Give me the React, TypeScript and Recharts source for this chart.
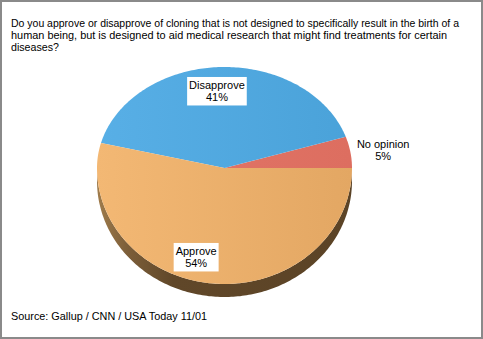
import React from 'react';
import { PieChart, Pie } from 'recharts';

// ---- data ----
const categories = ['No opinion', 'Disapprove', 'Approve'];
const values = [5, 41, 54];
const titleLines = [
  'Do you approve or disapprove of cloning that is not designed to specifically result in the birth of a',
  'human being, but is designed to aid medical research that might find treatments for certain',
  'diseases?',
];
const sourceText = 'Source: Gallup / CNN / USA Today 11/01';

// ---- styles ----
const W = 483;
const H = 339;
const FONT = '"Liberation Sans", Arial, Helvetica, sans-serif';
const CX = 224.5;
const CY = 168;
const RX = 127.5;
const RY_TOP = 101;
const RY_BOT = 116;
const DEPTH = 13;
const sliceGradients: Record<string, [string, string]> = {
  'No opinion': ['#E27668', '#DD6E60'],
  Disapprove: ['#58AFE6', '#4AA2D9'],
  Approve: ['#F3B874', '#E3A763'],
};
const labelStyle: Record<string, { f: number; dx: number; dy: number; box: boolean }> = {
  'No opinion': { f: 1.26, dx: 0, dy: 2, box: false },
  Disapprove: { f: 0.763, dx: -4.5, dy: 0, box: true },
  Approve: { f: 0.773, dx: -16, dy: 0, box: true },
};
const titleWidths = [448, 436, 48];
const sourceWidth = 196;

const data = categories.map((name, i) => ({ name, value: values[i] }));

function ePt(cx: number, cy: number, deg: number, scale = 1): [number, number] {
  const a = (deg * Math.PI) / 180;
  const s = Math.sin(a);
  const ry = s > 0 ? RY_TOP : RY_BOT;
  return [cx + RX * scale * Math.cos(a), cy - ry * scale * s];
}

function arcPts(cx: number, cy: number, a0: number, a1: number, dy = 0): [number, number][] {
  const pts: [number, number][] = [];
  const n = Math.max(2, Math.ceil(Math.abs(a1 - a0) / 1));
  for (let i = 0; i <= n; i++) {
    const a = a0 + ((a1 - a0) * i) / n;
    const [x, y] = ePt(cx, cy, a);
    pts.push([x, y + dy]);
  }
  return pts;
}

const fmt = (p: [number, number]) => `${p[0].toFixed(2)},${p[1].toFixed(2)}`;

function measure(text: string): number {
  try {
    const c = document.createElement('canvas').getContext('2d');
    if (c) {
      c.font = `11px ${FONT}`;
      return c.measureText(text).width;
    }
  } catch (e) {
    /* ignore */
  }
  return text.length * 5.6;
}

const renderSlice = (props: any) => {
  const { cx, cy, startAngle, endAngle, name, index } = props;
  const s = Math.min(startAngle, endAngle);
  const e = Math.max(startAngle, endAngle);
  const [c0, c1] = sliceGradients[name] || ['#999', '#777'];
  const gid = `slice-grad-${index}`;
  const top = arcPts(cx, cy, s, e);
  const topPath = `M${cx},${cy} L${top.map(fmt).join(' L')} Z`;
  const w0 = Math.max(s, 180);
  const w1 = Math.min(e, 360);
  let wallPath = '';
  if (w1 > w0) {
    const upper = arcPts(cx, cy, w0, w1);
    const lower = arcPts(cx, cy, w0, w1, DEPTH).reverse();
    wallPath = `M${upper.map(fmt).join(' L')} L${lower.map(fmt).join(' L')} Z`;
  }
  return (
    <g key={`slice-${index}`}>
      <defs>
        <linearGradient id={gid} gradientUnits="userSpaceOnUse" x1={cx - RX} y1={0} x2={cx + RX} y2={0}>
          <stop offset="0" stopColor={c0} />
          <stop offset="1" stopColor={c1} />
        </linearGradient>
        <linearGradient id={`wall-${index}`} gradientUnits="userSpaceOnUse" x1={cx - RX} y1={0} x2={cx + RX} y2={0}>
          <stop offset="0" stopColor="#A07C4C" />
          <stop offset="0.12" stopColor="#7C5E39" />
          <stop offset="0.3" stopColor="#604729" />
          <stop offset="1" stopColor="#5B4326" />
        </linearGradient>
      </defs>
      {wallPath && <path d={wallPath} fill={`url(#wall-${index})`} stroke="none" />}
      <path d={topPath} fill={`url(#${gid})`} stroke="none" />
    </g>
  );
};

const renderText = (props: any) => {
  const { cx, cy, midAngle, name, value, index } = props;
  const st = labelStyle[name] || { f: 0.7, dx: 0, dy: 0, box: false };
  const [px, py] = ePt(cx, cy, midAngle, st.f);
  const x = px + st.dx;
  const y = py + st.dy;
  const l1 = name;
  const l2 = `${value}%`;
  const tw = Math.max(measure(l1), measure(l2));
  const bw = tw + 4;
  return (
    <g key={`lab-${index}`}>
      {st.box && <rect x={x - bw / 2} y={y - 14} width={bw} height={28.5} fill="#FFFFFF" />}
      <text x={x} y={y - 2} textAnchor="middle" fontFamily={FONT} fontSize={11} fill="#000">
        {l1}
      </text>
      <text x={x} y={y + 10} textAnchor="middle" fontFamily={FONT} fontSize={11} fill="#000">
        {l2}
      </text>
    </g>
  );
};

export default function App() {
  return (
    <div style={{ position: 'absolute', left: 0, top: 0, width: W, height: H, background: '#FFFFFF' }}>
      <PieChart width={W} height={H} margin={{ top: 0, right: 0, bottom: 0, left: 0 }}>
        <Pie
          data={data}
          dataKey="value"
          nameKey="name"
          cx={CX}
          cy={CY}
          innerRadius={0}
          outerRadius={RX}
          startAngle={0}
          endAngle={360}
          fillOpacity={0}
          stroke="none"
          label={renderSlice}
          labelLine={false}
          isAnimationActive={false}
        />
        <Pie
          data={data}
          dataKey="value"
          nameKey="name"
          cx={CX}
          cy={CY}
          innerRadius={0}
          outerRadius={RX}
          startAngle={0}
          endAngle={360}
          fillOpacity={0}
          stroke="none"
          label={renderText}
          labelLine={false}
          isAnimationActive={false}
        />
      </PieChart>
      <svg width={W} height={H} style={{ position: 'absolute', left: 0, top: 0, pointerEvents: 'none' }}>
        {titleLines.map((t, i) => (
          <text
            key={i}
            x={11}
            y={27 + i * 12}
            fontFamily={FONT}
            fontSize={11}
            fill="#000"
            textLength={titleWidths[i]}
            lengthAdjust="spacingAndGlyphs"
          >
            {t}
          </text>
        ))}
        <text
          x={11}
          y={320}
          fontFamily={FONT}
          fontSize={11}
          fill="#000"
          textLength={sourceWidth}
          lengthAdjust="spacingAndGlyphs"
        >
          {sourceText}
        </text>
        <rect x={1} y={1} width={W - 2} height={H - 2} fill="none" stroke="#8A8A8A" strokeWidth={2} />
      </svg>
    </div>
  );
}
